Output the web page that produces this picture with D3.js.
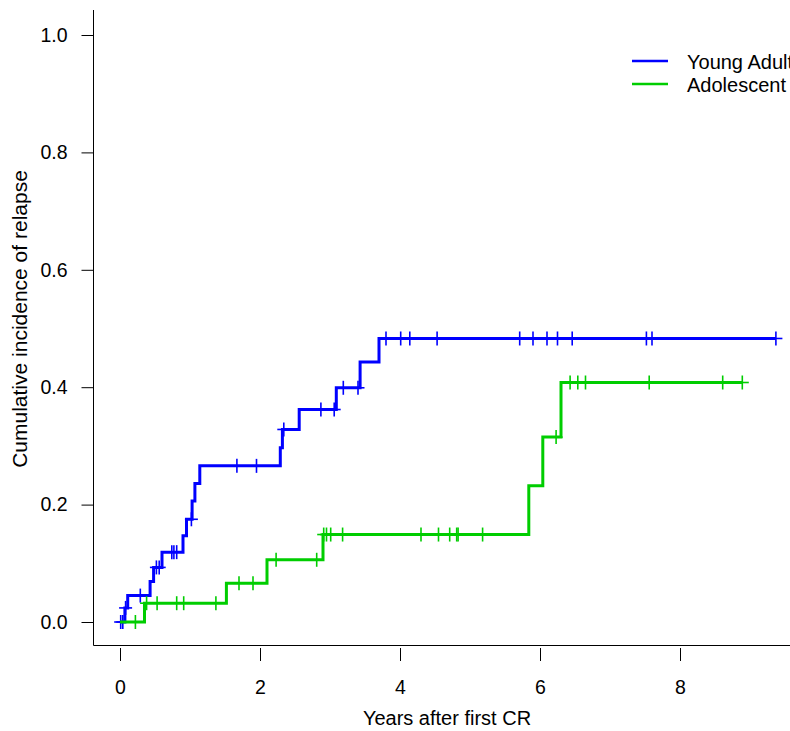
<!DOCTYPE html>
<html>
<head>
<meta charset="utf-8">
<script src="https://cdn.jsdelivr.net/npm/d3@7"></script>
<style>
  body { margin: 0; background: #fff; }
  svg { display: block; font-family: "Liberation Sans", Arial, sans-serif; }
</style>
</head>
<body>
<svg id="chart" width="790" height="731"></svg>
<script>
// ---------- data ----------
const seriesNames = ["Young Adult", "Adolescent"];

const youngEventTimes  = [0.07, 0.11, 0.43, 0.48, 0.60, 0.90, 0.95, 1.03, 1.07, 1.14, 2.29, 2.32, 2.56, 3.09, 3.43, 3.70];
const youngEventValues = [0.024, 0.045, 0.069, 0.093, 0.119, 0.147, 0.175, 0.206, 0.236, 0.266, 0.297, 0.328, 0.362, 0.399, 0.443, 0.483];
const youngCensorTimes = [0.01, 0.04, 0.08, 0.29, 0.52, 0.56, 0.74, 0.77, 0.81, 1.02, 1.67, 1.95, 2.34, 2.87, 3.06, 3.19, 3.40, 3.80, 4.01, 4.14, 4.53, 5.71, 5.90, 6.10, 6.25, 6.46, 7.52, 7.60, 9.37];

const adolEventTimes  = [0.35, 1.52, 2.10, 2.90, 5.84, 6.04, 6.30];
const adolEventValues = [0.032, 0.066, 0.106, 0.149, 0.232, 0.315, 0.408];
const adolCensorTimes = [0.22, 0.38, 0.53, 0.81, 0.91, 1.37, 1.70, 1.90, 2.23, 2.81, 2.91, 2.95, 3.01, 3.18, 4.30, 4.55, 4.71, 4.81, 4.83, 5.18, 6.23, 6.43, 6.54, 6.65, 7.56, 8.61, 8.89];

const xTicks = [0, 2, 4, 6, 8];
const yTicks = [0, 0.2, 0.4, 0.6, 0.8, 1.0];
const colors = ["#0000FF", "#00CD00"];

// ---------- chart ----------
const svg = d3.select("#chart");
const x = d3.scaleLinear().domain([0, 8]).range([120, 680]);
const y = d3.scaleLinear().domain([0, 1]).range([622, 35]);
const FONT = "Liberation Sans, Arial, sans-serif";

// axes lines (L-shaped box)
svg.append("line").attr("x1", 93.5).attr("x2", 93.5).attr("y1", 10).attr("y2", 645.5)
  .attr("stroke", "#000").attr("stroke-width", 1);
svg.append("line").attr("x1", 93.5).attr("x2", 790).attr("y1", 645.5).attr("y2", 645.5)
  .attr("stroke", "#000").attr("stroke-width", 1);

// y axis
const yAxis = d3.axisLeft(y).tickValues(yTicks).tickFormat(d3.format(".1f")).tickSize(12).tickPadding(14);
const gy = svg.append("g").attr("transform", "translate(93.5,0)").call(yAxis);
gy.select(".domain").remove();
gy.selectAll("text").attr("font-size", 19.5).attr("fill", "#000").attr("font-family", FONT);

// x axis
const xAxis = d3.axisBottom(x).tickValues(xTicks).tickFormat(d3.format("d")).tickSize(13).tickPadding(19);
const gx = svg.append("g").attr("transform", "translate(0,648)").call(xAxis);
gx.select(".domain").remove();
gx.selectAll("text").attr("font-size", 19.5).attr("fill", "#000").attr("font-family", FONT);

// axis titles
svg.append("text").attr("x", 447).attr("y", 725).attr("text-anchor", "middle")
  .attr("font-size", 20).text("Years after first CR");
svg.append("text").attr("transform", "translate(27,319) rotate(-90)").attr("text-anchor", "middle")
  .attr("font-size", 21).text("Cumulative incidence of relapse");

// step curves
function stepValue(times, values, t) {
  let v = 0;
  for (let i = 0; i < times.length; i++) if (times[i] <= t) v = values[i];
  return v;
}
function stepPath(times, values, endT) {
  let p = `M${x(0)},${y(0)}`;
  times.forEach((t, i) => {
    p += `H${x(t)}V${y(values[i])}`;
  });
  p += `H${x(endT)}`;
  return p;
}

const series = [
  {times: youngEventTimes, values: youngEventValues, cens: youngCensorTimes},
  {times: adolEventTimes, values: adolEventValues, cens: adolCensorTimes}
];

series.forEach((s, k) => {
  const endT = d3.max(s.cens);
  svg.append("path").attr("d", stepPath(s.times, s.values, endT))
    .attr("fill", "none").attr("stroke", colors[k]).attr("stroke-width", 3)
    .attr("stroke-linejoin", "miter");
  const g = svg.append("g").attr("stroke", colors[k]).attr("stroke-width", 1.6);
  s.cens.forEach(t => {
    const cx = x(t), cy = y(stepValue(s.times, s.values, t));
    g.append("line").attr("x1", cx - 6.5).attr("x2", cx + 6.5).attr("y1", cy).attr("y2", cy);
    g.append("line").attr("x1", cx).attr("x2", cx).attr("y1", cy - 7).attr("y2", cy + 7);
  });
});

// legend
const legY = [61, 84];
seriesNames.forEach((n, k) => {
  svg.append("line").attr("x1", 632).attr("x2", 668).attr("y1", legY[k]).attr("y2", legY[k])
    .attr("stroke", colors[k]).attr("stroke-width", 2.5);
  svg.append("text").attr("x", 687).attr("y", legY[k] + 8).attr("font-size", 20).text(n);
});
</script>
</body>
</html>
